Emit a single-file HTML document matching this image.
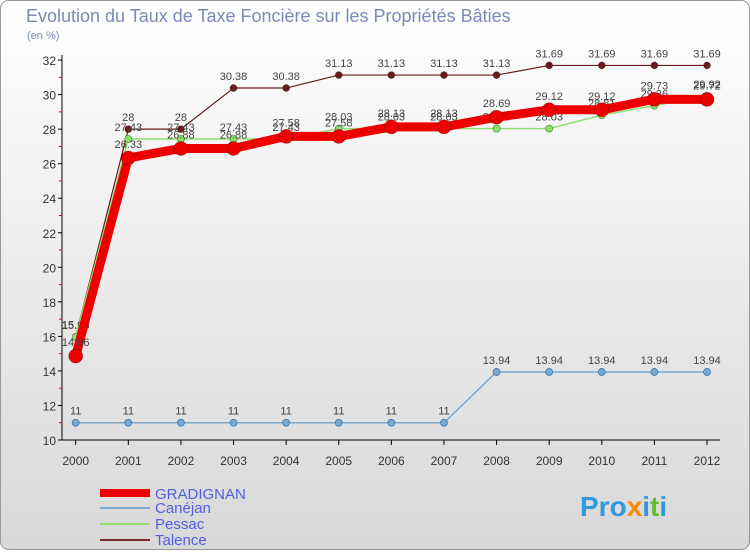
<!DOCTYPE html>
<html><head><meta charset="utf-8"><style>
body{margin:0;width:750px;height:550px;overflow:hidden;font-family:"Liberation Sans",sans-serif}
</style></head><body>
<svg width="750" height="550" xmlns="http://www.w3.org/2000/svg">
<defs><linearGradient id="bg" x1="0" y1="0" x2="0" y2="1"><stop offset="0" stop-color="#ffffff"/><stop offset="1" stop-color="#d8d8d8"/></linearGradient></defs>
<rect x="0.5" y="0.5" width="749" height="549" rx="8" fill="url(#bg)" stroke="#999"/>
<text x="26" y="22" font-size="18" fill="#7a8ab8" font-weight="300">Evolution du Taux de Taxe Foncière sur les Propriétés Bâties</text>
<text x="27" y="39" font-size="11" fill="#7a8ab8">(en %)</text>
<g id="axes"></g><g id="series"></g>
<g>
<line x1="100" y1="493" x2="150" y2="493" stroke="#e00" stroke-width="8"/><text x="155" y="499" font-size="15" fill="#5060e0">GRADIGNAN</text>
<line x1="100" y1="508" x2="150" y2="508" stroke="#7aa8d0" stroke-width="2"/><text x="155" y="513" font-size="15" fill="#5060e0">Canéjan</text>
<line x1="100" y1="524" x2="150" y2="524" stroke="#90e070" stroke-width="2"/><text x="155" y="529" font-size="15" fill="#5060e0">Pessac</text>
<line x1="100" y1="540" x2="150" y2="540" stroke="#7a2a2a" stroke-width="2"/><text x="155" y="545" font-size="15" fill="#5060e0">Talence</text>
</g>
<text x="580" y="516" font-size="28" font-weight="bold" fill="#3399dd">Pro<tspan fill="#ff8800">x</tspan>i<tspan fill="#66bb33">t</tspan>i</text>
</svg>
<script>
const years=[2000,2001,2002,2003,2004,2005,2006,2007,2008,2009,2010,2011,2012];
const yTicks=[10,12,14,16,18,20,22,24,26,28,30,32];
const gradignan=[14.86,26.33,26.88,26.88,27.58,27.58,28.13,28.13,28.69,29.12,29.12,29.73,29.72];
const canejan=[11,11,11,11,11,11,11,11,13.94,13.94,13.94,13.94,13.94];
const pessac=[15.96,27.43,27.43,27.43,27.43,28.03,28.03,28.03,28.03,28.03,28.81,29.36,29.92];
const talence=[15.98,28,28,30.38,30.38,31.13,31.13,31.13,31.13,31.69,31.69,31.69,31.69];
const NS="http://www.w3.org/2000/svg";
const x=i=>75.7+i*(707-75.7)/12;
const y=v=>440-(v-10)*17.27;
function mk(t,a,p){const e=document.createElementNS(NS,t);for(const k in a)e.setAttribute(k,a[k]);p.appendChild(e);return e;}
const ax=document.getElementById('axes');
const yl=mk('line',{x1:62,y1:55,x2:62,y2:440,stroke:'#000'},ax);


const xl=mk('line',{x1:62,y1:440,x2:720,y2:440,stroke:'#000'},ax);


yTicks.forEach(v=>{mk('line',{x1:58,y1:y(v),x2:62,y2:y(v),stroke:'#000'},ax);
 if(v<32)mk('line',{x1:59,y1:y(v+1),x2:62,y2:y(v+1),stroke:'#e00'},ax);
 const t=mk('text',{x:56,y:y(v)+5,'font-size':12,'text-anchor':'end',fill:'#333'},ax);t.textContent=v;
 
 });
years.forEach((yr,i)=>{mk('line',{x1:x(i),y1:440,x2:x(i),y2:445,stroke:'#000'},ax);
 const t=mk('text',{x:x(i),y:465,'font-size':12,'text-anchor':'middle',fill:'#333'},ax);t.textContent=yr;
 
 });
const sg=document.getElementById('series');
function series(d,name,col,w,r,lblDy,sc){const g=mk('g',{},sg);
 
 
 mk('polyline',{points:d.map((v,i)=>x(i)+','+y(v)).join(' '),fill:'none',stroke:col,'stroke-width':w,'stroke-linejoin':'round'},g);
 d.forEach((v,i)=>{const c=mk('circle',{cx:x(i),cy:y(v),r:r,fill:col,stroke:sc,'stroke-width':0.8},g);
  
  
  const t=mk('text',{x:x(i),y:y(v)+lblDy,'font-size':11,'text-anchor':'middle',fill:'#444'},g);t.textContent=v;});}
series(canejan,'canejan','#7aa8d0',1.5,3.5,-8,'#3a78b0');
series(talence,'talence','#6a1a1a',1.2,3.5,-8,'rgba(0,0,0,0.3)');
series(pessac,'pessac','#90e070',1.5,3.5,-8,'#4a9a30');
series(gradignan,'gradignan','#ee0000',9,7,-10,'rgba(0,0,0,0.3)');
</script>
</body></html>
